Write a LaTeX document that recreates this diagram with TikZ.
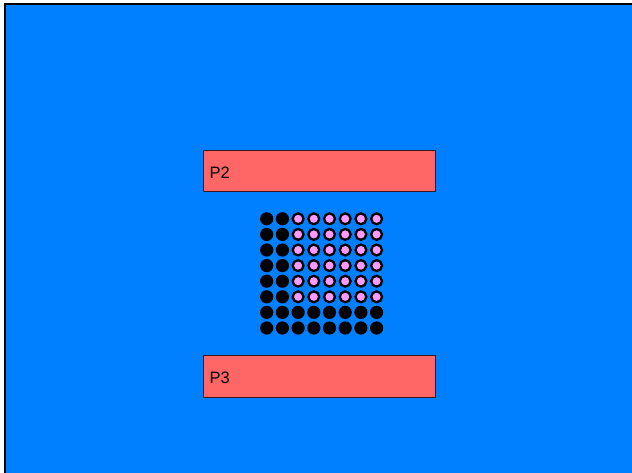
\documentclass[tikz,border=0pt]{standalone}
\usepackage{fontspec}
\setmainfont{Liberation Sans}
\definecolor{bgblue}{HTML}{0080FF}
\definecolor{boxred}{HTML}{FF6666}
\definecolor{boxedge}{HTML}{3A1A1A}
\definecolor{dotpink}{HTML}{FF99FF}
\tikzset{
  plate/.style={draw=boxedge, fill=boxred, line width=1pt},
  platelabel/.style={anchor=west, font=\fontsize{16.5}{16.5}\selectfont, text=black, inner sep=0pt},
  blackdot/.style={fill=black, draw=none},
  pinkdot/.style={fill=dotpink, draw=black, line width=2.3pt}
}
\begin{document}
\begin{tikzpicture}[x=1pt, y=-1pt]
\useasboundingbox (0,0) rectangle (632,473);
\begin{scope}
\clip (0,0) rectangle (632,473);
\draw[fill=bgblue, draw=black, line width=2pt] (5,4) rectangle (660,500);
\end{scope}
% plates
\draw[plate] (203.5,150.5) rectangle (435,192) coordinate (p2c);
\node[platelabel] (p2) at (209.5,173) {P2};
\draw[plate] (203.5,355.5) rectangle (435,397) coordinate (p3c);
\node[platelabel] (p3) at (209.5,378) {P3};
% grid
\foreach \i in {0,...,7} {
  \foreach \j in {0,...,7} {
    \pgfmathsetmacro{\cx}{266.7+15.7*\i}
    \pgfmathsetmacro{\cy}{218.8+15.6*\j}
    \ifnum\i>1 \ifnum\j<6
      \path[pinkdot] (\cx,\cy) circle[radius=5.4];
    \else
      \path[blackdot] (\cx,\cy) circle[radius=6.6];
    \fi
    \else
      \path[blackdot] (\cx,\cy) circle[radius=6.6];
    \fi
  }
}
\end{tikzpicture}
\end{document}
